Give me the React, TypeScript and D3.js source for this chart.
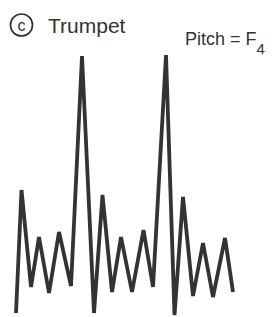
import React from "react";
import * as d3 from "d3";

const WIDTH = 280;
const HEIGHT = 317;

// Waveform samples (arbitrary time units, arbitrary amplitude units)
const times = [0, 5.5, 15, 23, 33, 43, 55, 66, 78, 86.5, 96, 105, 116, 127.5, 137, 150, 158.5, 167, 177, 187, 197, 209, 217];
const amplitudes = [2, 125, 28, 78, 22, 83, 29, 259, 2, 120, 23, 78, 23, 85, 28, 260, 0, 118, 19, 72, 18, 77, 23];

const panelLabel = "c";
const instrument = "Trumpet";
const pitchText = "Pitch = F";
const pitchSub = "4";

export default function App() {
  const x = d3.scaleLinear().domain([0, 217]).range([16, 233]);
  const y = d3.scaleLinear().domain([0, 260]).range([315, 55]);
  const pts: [number, number][] = times.map((t, i) => [t, amplitudes[i]]);
  const line = d3
    .line<[number, number]>()
    .x((d) => x(d[0]))
    .y((d) => y(d[1]));

  const font = "'Liberation Sans', Arial, Helvetica, sans-serif";
  const ink = "#333333";

  return (
    <svg
      width={WIDTH}
      height={HEIGHT}
      style={{ position: "absolute", left: 0, top: 0, background: "#fff" }}
    >
      <rect width={WIDTH} height={HEIGHT} fill="#fff" />
      <circle cx={21.5} cy={25} r={11} fill="none" stroke={ink} strokeWidth={1.7} />
      <text
        x={21.5}
        y={30.5}
        textAnchor="middle"
        fontFamily={font}
        fontSize={16}
        fill={ink}
      >
        {panelLabel}
      </text>
      <text x={48} y={33} fontFamily={font} fontSize={21} fill={ink}>
        {instrument}
      </text>
      <text x={185} y={45} fontFamily={font} fontSize={18} fill={ink}>
        {pitchText}
        <tspan fontSize={15} dy={9}>
          {pitchSub}
        </tspan>
      </text>
      <path
        d={line(pts) || ""}
        fill="none"
        stroke={ink}
        strokeWidth={3.8}
        strokeLinejoin="miter"
      />
    </svg>
  );
}
